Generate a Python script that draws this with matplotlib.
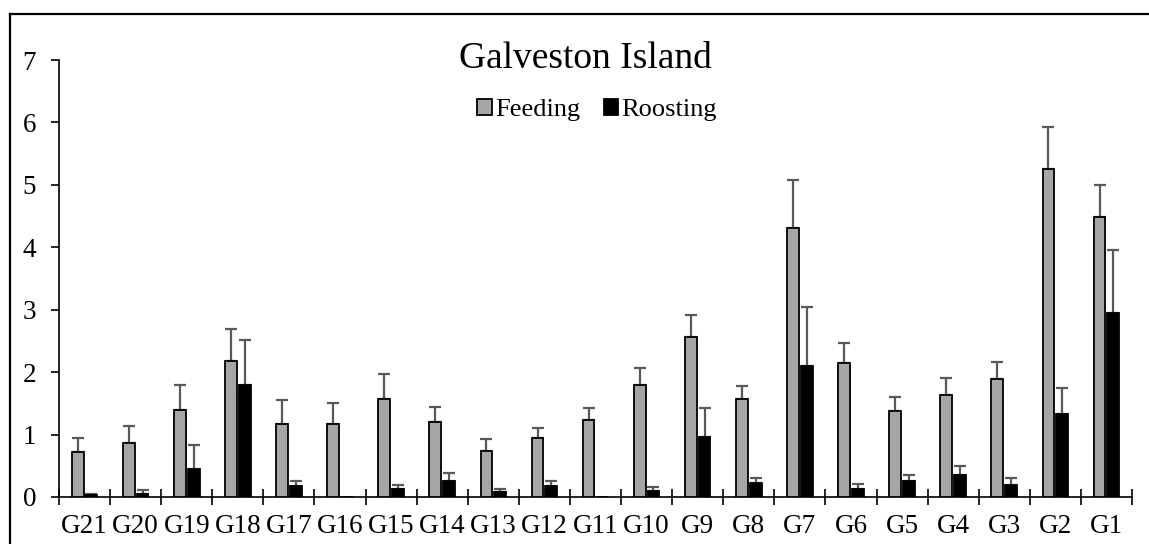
import numpy as np
import matplotlib
matplotlib.use("Agg")
import matplotlib.pyplot as plt
from matplotlib.lines import Line2D
from matplotlib.patches import Patch

plt.rcParams["font.family"] = ["Liberation Serif", "DejaVu Serif"]

# Sites along Galveston Island, west to east
sites = ["G21", "G20", "G19", "G18", "G17", "G16", "G15", "G14", "G13", "G12", "G11",
         "G10", "G9", "G8", "G7", "G6", "G5", "G4", "G3", "G2", "G1"]

feeding = [0.72, 0.86, 1.40, 2.18, 1.17, 1.17, 1.57, 1.20, 0.74, 0.94, 1.23,
           1.80, 2.57, 1.57, 4.31, 2.15, 1.37, 1.63, 1.89, 5.26, 4.49]
feeding_se = [0.22, 0.27, 0.39, 0.51, 0.39, 0.33, 0.40, 0.24, 0.19, 0.17, 0.20,
              0.27, 0.35, 0.21, 0.76, 0.31, 0.23, 0.28, 0.27, 0.67, 0.50]

roosting = [0.03, 0.05, 0.45, 1.79, 0.17, 0.00, 0.13, 0.25, 0.08, 0.17, 0.00,
            0.10, 0.96, 0.22, 2.10, 0.13, 0.25, 0.36, 0.19, 1.33, 2.94]
roosting_se = [0.02, 0.06, 0.39, 0.72, 0.09, 0.00, 0.07, 0.13, 0.05, 0.08, 0.00,
               0.06, 0.47, 0.08, 0.94, 0.08, 0.10, 0.14, 0.11, 0.42, 1.01]

W, H, DPI = 1149, 544, 100
fig = plt.figure(figsize=(W / DPI, H / DPI), dpi=DPI)

# plot area in pixel terms
x0, x1 = 59, 1132
y_top, y_bot = 60, 497
ax = fig.add_axes([x0 / W, (H - y_bot) / H, (x1 - x0) / W, (y_bot - y_top) / H])

x = np.arange(len(sites))
bw = 0.23
off = 0.135
feed_col = "#A6A6A6"
err_col = "#595959"


def draw_series(xpos, vals, errs, color):
    vals = np.asarray(vals)
    errs = np.asarray(errs)
    ax.bar(xpos, vals, width=bw, color=color, edgecolor="black", linewidth=1.3, zorder=3)
    m = errs > 0
    ax.errorbar(xpos[m], vals[m], yerr=[np.zeros(m.sum()), errs[m]], fmt="none",
                ecolor=err_col, elinewidth=1.6, capsize=4.4, capthick=1.6, zorder=2)


draw_series(x - off, feeding, feeding_se, feed_col)
draw_series(x + off, roosting, roosting_se, "black")

ax.set_xlim(-0.5, len(sites) - 0.5)
ax.set_ylim(0, 7)
ax.set_yticks(range(0, 8))
ax.set_xticks(x)
ax.set_xticklabels(sites)
ax.set_xticks(np.arange(-0.5, len(sites), 1.0), minor=True)

for s in ["top", "right"]:
    ax.spines[s].set_visible(False)
for s in ["left", "bottom"]:
    ax.spines[s].set_linewidth(1.2)

ax.tick_params(axis="y", direction="out", length=5.5, width=1.2, pad=11, labelsize=19.5)
ax.tick_params(axis="x", which="major", length=0, pad=12.5, labelsize=19.5)
ax.tick_params(axis="x", which="minor", direction="inout", length=11.5, width=1.2)

# title and legend
fig.text(585 / W, 1 - 59 / H, "Galveston Island", ha="center", va="center", fontsize=27)
handles = [Patch(facecolor=feed_col, edgecolor="black", linewidth=1.3, label="Feeding"),
           Patch(facecolor="black", edgecolor="black", linewidth=1.3, label="Roosting")]
fig.legend(handles=handles, loc="center", bbox_to_anchor=(597 / W, 1 - 110 / H), ncol=2,
           frameon=False, fontsize=19, handlelength=0.55, handleheight=0.55,
           handletextpad=0.12, columnspacing=0.9, borderpad=0)

# outer chart border (left and top edges)
lx, ty = 9.5 / W, 1 - 13.5 / H
fig.add_artist(Line2D([lx, lx], [0, ty], transform=fig.transFigure, color="black", lw=1.6))
fig.add_artist(Line2D([lx, 1], [ty, ty], transform=fig.transFigure, color="black", lw=1.6))

fig.savefig("out.png", dpi=DPI)
